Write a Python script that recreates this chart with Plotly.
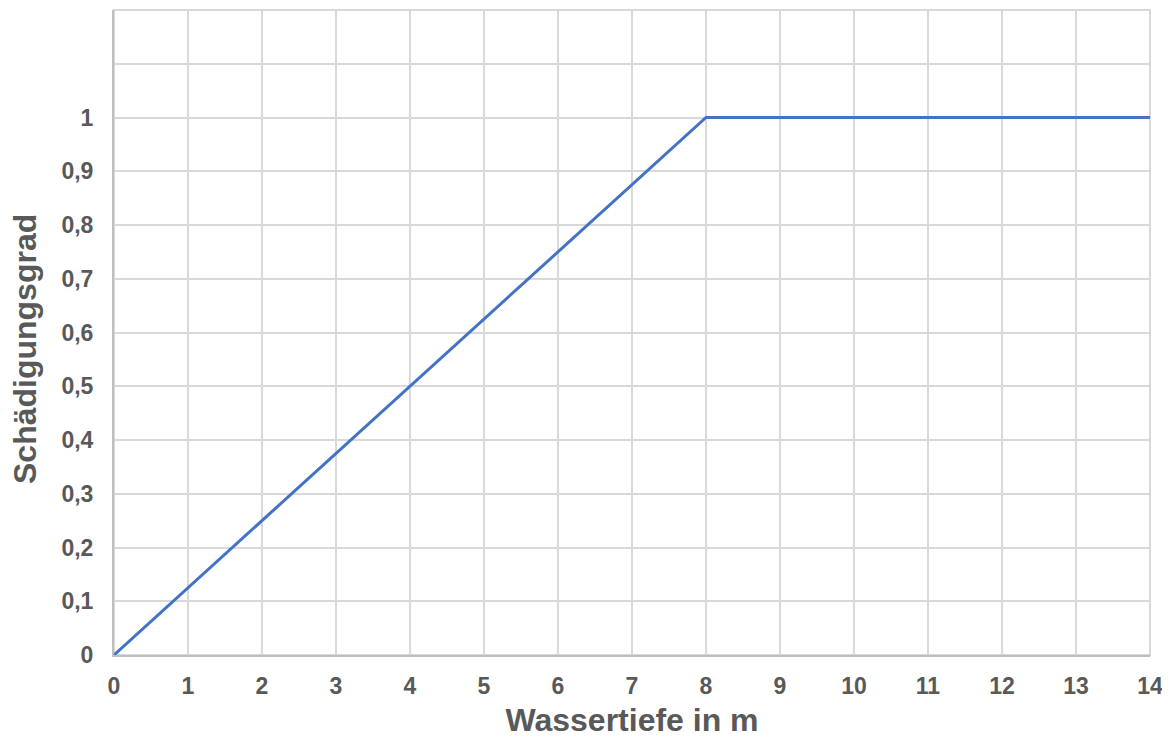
import plotly.graph_objects as go

depth_m = [0, 8, 14]
damage = [0, 1, 1]
x_ticks = list(range(0, 15))
y_ticks = [0, 0.1, 0.2, 0.3, 0.4, 0.5, 0.6, 0.7, 0.8, 0.9, 1.0, 1.1, 1.2]
y_labels = ["0", "0,1", "0,2", "0,3", "0,4", "0,5", "0,6", "0,7", "0,8", "0,9", "1", "", ""]

fig = go.Figure()
fig.add_trace(go.Scatter(x=depth_m, y=damage, mode="lines",
                         line=dict(color="#4472C4", width=3), showlegend=False))

font_fam = "Liberation Sans, Arial, sans-serif"
fig.update_layout(
    width=1162, height=730,
    margin=dict(l=106, r=20, t=2, b=83),
    plot_bgcolor="white", paper_bgcolor="white",
    separators=",.",
    font=dict(family=font_fam, color="#595959"),
)
fig.update_xaxes(
    range=[0, 14], tickvals=x_ticks, ticktext=[str(v) for v in x_ticks],
    showgrid=True, gridcolor="#d9d9d9", gridwidth=2,
    showline=True, linecolor="#bfbfbf", linewidth=2, mirror=False,
    zeroline=False, ticks="", ticklen=0, ticklabelstandoff=9,
    tickfont=dict(size=23, family=font_fam, color="#595959", weight="bold"),
    title=dict(text="<b>Wassertiefe in m</b>", font=dict(size=32, color="#595959"), standoff=13),
)
fig.update_yaxes(
    range=[0, 1.2], tickvals=y_ticks, ticktext=y_labels,
    showgrid=True, gridcolor="#d9d9d9", gridwidth=2,
    showline=True, linecolor="#bfbfbf", linewidth=2,
    zeroline=False, ticks="", ticklen=0, ticklabelstandoff=14,
    tickfont=dict(size=23, family=font_fam, color="#595959", weight="bold"),
)
fig.add_annotation(text="<b>Schädigungsgrad</b>", xref="paper", yref="paper",
                   x=0, y=0.4744, xanchor="center", yanchor="middle",
                   xshift=-89, textangle=-90, showarrow=False,
                   font=dict(size=32, color="#595959", family=font_fam))
fig.add_shape(type="rect", xref="paper", yref="paper", x0=0, y0=0, x1=1, y1=1,
              line=dict(color="#d9d9d9", width=2), layer="below")

fig.write_html("out.html")
